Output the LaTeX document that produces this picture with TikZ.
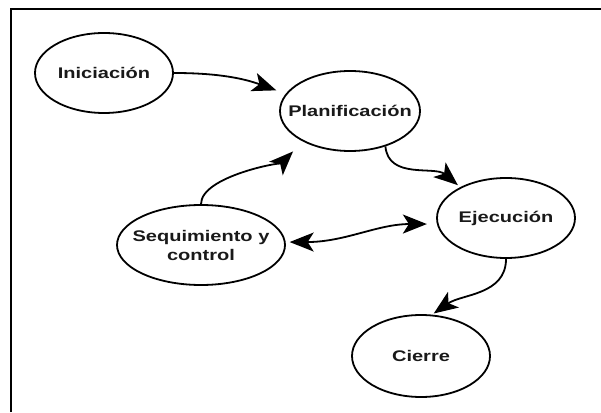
\documentclass[tikz,border=0pt]{standalone}
\usepackage{fontspec}
\newfontfamily\lblfont[FakeStretch=1.3]{Liberation Sans}
\usetikzlibrary{arrows.meta}
\usetikzlibrary{shapes.geometric}

\tikzset{
  punta/.tip={Stealth[length=24pt,width=19pt,inset=6pt]},
  fase/.style={ellipse, draw, line width=1.8pt, inner xsep=-20pt, inner ysep=0pt,
    align=center, font=\lblfont\bfseries\fontsize{15.4}{19}\selectfont, text=black!90},
  paso/.style={line width=1.8pt}
}

\begin{document}
\begin{tikzpicture}[x=1pt,y=1pt]
\useasboundingbox (0,0) rectangle (601,412);
\draw[line width=2.5pt] (11,0) -- (11,403) -- (601,403);

\node[fase, minimum width=138pt, minimum height=80pt] (ini) at (104,339) {Iniciación};
\node[fase, minimum width=140pt, minimum height=80pt] (plan) at (350,301) {Planificación};
\node[fase, minimum width=138pt, minimum height=80pt] (ejec) at (506,194) {Ejecución};
\node[fase, minimum width=168pt, minimum height=80pt] (segui) at (201,167) {Sequimiento y\\control};
\node[fase, minimum width=138pt, minimum height=82pt] (cierre) at (421,56) {Cierre};

\draw[paso,-punta, shorten >=10pt] (ini.east) to[out=0, in=160] (plan.165);
\draw[paso,-punta, shorten >=3pt] (plan.-45) to[out=-85, in=140] (ejec.146);
\draw[paso,-punta, shorten >=14pt] (segui.north) to[out=90, in=-135, looseness=0.6] (plan.213);
\draw[paso,punta-punta, shorten <=4pt, shorten >=10pt] (segui.2) to[out=0, in=180] (ejec.185);
\draw[paso,-punta, shorten >=2pt] (ejec.south) to[out=-90, in=35] (cierre.75);
\end{tikzpicture}
\end{document}
